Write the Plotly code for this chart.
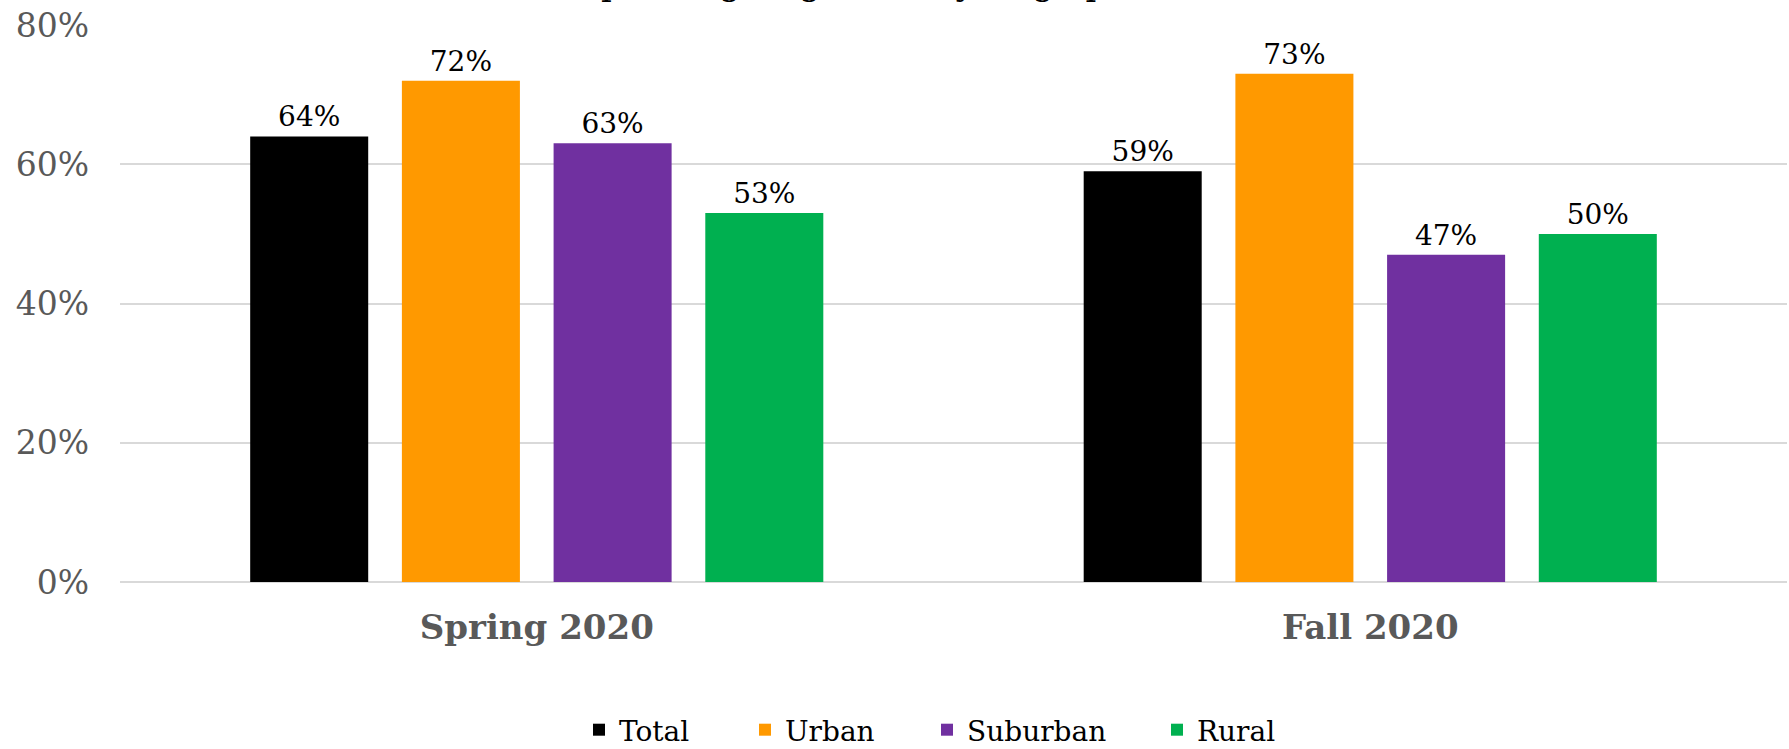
import plotly.graph_objects as go

periods = ["Spring 2020", "Fall 2020"]
series_names = ["Total", "Urban", "Suburban", "Rural"]
total_vals = [64, 59]
urban_vals = [72, 73]
suburban_vals = [63, 47]
rural_vals = [53, 50]
series_colors = ["#000000", "#FF9900", "#7030A0", "#00B050"]
y_ticks = [0, 20, 40, 60, 80]
y_tick_labels = ["0%", "20%", "40%", "60%", "80%"]
title_text = "% responding large or very large problem"

FONT = "Georgia, 'DejaVu Serif', serif"
W, H = 1789, 749
ML, MR, MT, MB = 120, 2, 25, 167
plot_w = W - ML - MR
plot_h = H - MT - MB

values = [total_vals, urban_vals, suburban_vals, rural_vals]
legend_ids = ["legend", "legend2", "legend3", "legend4"]
legend_square_px = [598, 764, 946, 1176]

fig = go.Figure()
for name, vals, color, lid in zip(series_names, values, series_colors, legend_ids):
    fig.add_trace(go.Bar(
        name=name, x=periods, y=vals, marker_color=color, marker_line_width=0,
        text=[f"{v}%" for v in vals], textposition="outside",
        textfont=dict(family=FONT, size=28, color="#000000"),
        cliponaxis=False, legend=lid,
    ))

legend_layout = {}
for lid, px in zip(legend_ids, legend_square_px):
    legend_layout[lid] = dict(
        xref="container", yref="container",
        x=(px - 19) / W, xanchor="left", y=1 - 730 / H, yanchor="middle",
        orientation="h", font=dict(family=FONT, size=28, color="#000000"),
        bgcolor="rgba(0,0,0,0)",
    )

fig.update_layout(
    width=W, height=H,
    margin=dict(l=ML, r=MR, t=MT, b=MB, autoexpand=False),
    paper_bgcolor="white", plot_bgcolor="white",
    barmode="group", bargap=0.272, bargroupgap=0.222,
    showlegend=True,
    **legend_layout,
)
fig.update_yaxes(
    range=[0, 80], tickvals=y_ticks, ticktext=y_tick_labels,
    showgrid=True, gridcolor="#D9D9D9", gridwidth=2,
    zeroline=True, zerolinecolor="#D9D9D9", zerolinewidth=2,
    showline=False, ticks="", ticklabelstandoff=30,
    tickfont=dict(family=FONT, size=33, color="#595959"),
)
fig.update_xaxes(
    showline=False, ticks="", ticklabelstandoff=22,
    tickfont=dict(family=FONT, size=34, color="#595959", weight="bold"),
)
fig.add_annotation(
    text=title_text, xref="paper", yref="paper",
    x=(866 - ML) / plot_w, xanchor="center",
    y=1 + (MT - 5) / plot_h, yanchor="bottom",
    showarrow=False, font=dict(family=FONT, size=34, color="#000000"),
)

fig.write_html("out.html", config={"displayModeBar": False},
               post_script="document.body.style.margin='0px';")
